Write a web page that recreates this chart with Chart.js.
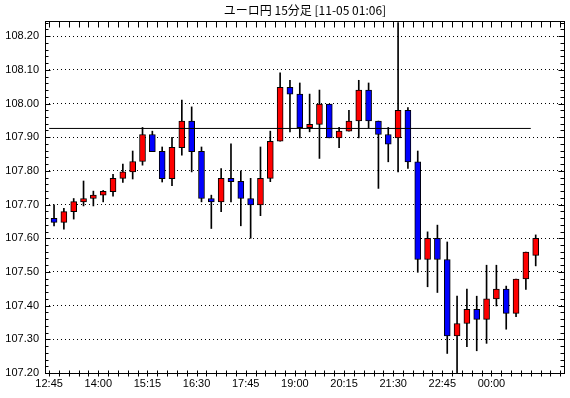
<!DOCTYPE html>
<html>
<head>
<meta charset="utf-8">
<script src="https://cdn.jsdelivr.net/npm/chart.js@4/dist/chart.umd.min.js"></script>
<style>
html,body{margin:0;padding:0;background:#fff;}
#wrap{width:570px;height:398px;}
</style>
</head>
<body>
<div id="wrap"><canvas id="c" width="570" height="398"></canvas></div>
<script>
const titleText = 'ユーロ円 15分足 [11-05 01:06]';
const times = ['12:45','13:00','13:15','13:30','13:45','14:00','14:15','14:30','14:45','15:00',
  '15:15','15:30','15:45','16:00','16:15','16:30','16:45','17:00','17:15','17:30',
  '17:45','18:00','18:15','18:30','18:45','19:00','19:15','19:30','19:45','20:00',
  '20:15','20:30','20:45','21:00','21:15','21:30','21:45','22:00','22:15','22:30',
  '22:45','23:00','23:15','23:30','23:45','00:00','00:15','00:30','00:45','01:00'];
const opens  = [107.659,107.647,107.679,107.708,107.718,107.728,107.738,107.778,107.797,107.828,
  107.908,107.858,107.777,107.869,107.948,107.858,107.718,107.708,107.778,107.769,
  107.718,107.699,107.778,107.888,108.048,108.028,107.928,107.938,107.998,107.898,
  107.918,107.948,108.040,107.948,107.908,107.898,107.980,107.827,107.537,107.600,
  107.537,107.310,107.347,107.389,107.359,107.420,107.449,107.377,107.479,107.549];
const highs  = [107.699,107.689,107.718,107.770,107.740,107.742,107.790,107.820,107.859,107.929,
  107.918,107.871,107.900,108.010,107.990,107.871,107.728,107.807,107.880,107.800,
  107.778,107.871,107.918,108.091,108.069,108.061,108.028,108.040,107.998,107.929,
  107.980,108.069,108.061,107.948,107.929,108.240,107.988,107.859,107.619,107.639,
  107.589,107.428,107.449,107.428,107.520,107.520,107.458,107.479,107.559,107.610];
const lows   = [107.637,107.627,107.657,107.696,107.696,107.708,107.725,107.766,107.776,107.817,
  107.857,107.767,107.756,107.847,107.797,107.708,107.629,107.679,107.708,107.637,
  107.600,107.667,107.768,107.888,107.916,107.898,107.916,107.837,107.898,107.869,
  107.918,107.898,107.928,107.748,107.827,107.797,107.807,107.499,107.456,107.439,
  107.258,107.199,107.278,107.266,107.288,107.399,107.330,107.367,107.448,107.518];
const closes = [107.647,107.679,107.709,107.718,107.728,107.739,107.778,107.797,107.828,107.908,
  107.857,107.777,107.870,107.948,107.857,107.718,107.708,107.778,107.768,107.718,
  107.699,107.778,107.888,108.048,108.028,107.928,107.938,107.998,107.898,107.918,
  107.948,108.040,107.948,107.908,107.879,107.980,107.827,107.537,107.600,107.537,
  107.310,107.347,107.389,107.359,107.420,107.449,107.377,107.479,107.559,107.600];
const refLevel = 107.926;
const refFrom = 0, refTo = 49;
const yTicks = [107.20,107.30,107.40,107.50,107.60,107.70,107.80,107.90,108.00,108.10,108.20];
const labelEvery = 5;

const bodies = opens.map((o,i)=>({x:i, y:[o, closes[i]]}));
const wicks = lows.map((l,i)=>({x:i, y:[l, highs[i]]}));
const bodyColors = opens.map((o,i)=> closes[i] >= o ? '#ff0000' : '#0000ff');

const framePlugin = {
  id:'frame',
  afterDraw(chart){
    const ctx = chart.ctx, a = chart.chartArea, xs = chart.scales.x, ys = chart.scales.y;
    ctx.save();
    ctx.strokeStyle = '#000'; ctx.lineWidth = 1;
    const L = Math.round(a.left)+0.5, R = Math.round(a.right)-0.5, T = Math.round(a.top)+0.5, B = Math.round(a.bottom)+0.5;
    ctx.strokeRect(L, T, R-L, B-T);
    ctx.beginPath();
    for (let k = 0; k <= times.length + 3; k++) {
      const px = Math.round(xs.getPixelForValue(k-0.5))+0.5;
      if (px <= L || px >= R) continue;
      ctx.moveTo(px, T); ctx.lineTo(px, T+6);
      ctx.moveTo(px, B-3); ctx.lineTo(px, B+3);
    }
    for (let m = 0; m <= 52; m++) {
      const v = 107.20 + m*0.02;
      const py = Math.round(ys.getPixelForValue(v))+0.5;
      if (py <= T || py >= B) continue;
      const len = (m % 5 === 0) ? 5 : 3;
      ctx.moveTo(L, py); ctx.lineTo(L+len, py);
      ctx.moveTo(R, py); ctx.lineTo(R-len-1, py);
    }
    ctx.stroke();
    ctx.fillStyle = '#000';
    ctx.font = '12px "Noto Sans CJK JP", "Noto Sans", sans-serif';
    ctx.textAlign = 'center'; ctx.textBaseline = 'middle';
    ctx.fillText(titleText, (a.left + a.right)/2, 10);
    ctx.restore();
  }
};

new Chart(document.getElementById('c'), {
  type:'bar',
  data:{
    datasets:[
      {type:'line', data:[{x:refFrom-0.5,y:refLevel},{x:refTo-0.5,y:refLevel}], borderColor:'#000', borderWidth:1, pointRadius:0, order:0},
      {data:bodies, backgroundColor:bodyColors, borderColor:'#000', borderWidth:1, borderSkipped:false, barThickness:6, grouped:false, order:1},
      {data:wicks, backgroundColor:'#000', borderWidth:0, barThickness:1, grouped:false, order:2}
    ]
  },
  options:{
    responsive:false, animation:false,
    layout:{padding:{top:21,right:5,left:0,bottom:0}},
    plugins:{legend:{display:false}, tooltip:{enabled:false}, title:{display:false}},
    scales:{
      x:{type:'linear', min:-0.92, max:51.98, offset:false,
        grid:{display:false, drawTicks:false}, border:{display:false},
        afterBuildTicks(s){ const t=[]; for(let i=0;i<times.length;i+=labelEvery) t.push({value:i-0.5}); s.ticks=t; },
        ticks:{autoSkip:false, maxRotation:0, color:'#000', padding:4,
          font:{family:'"Liberation Sans", Arial, sans-serif', size:11},
          callback(v){ const i=Math.round(v+0.5); return times[i] || ''; }},
        afterFit(s){ s.height = 25; }
      },
      y:{type:'linear', min:107.20, max:108.245,
        grid:{color:'#000', lineWidth:1, drawTicks:false},
        border:{display:false, dash:[1,3]},
        afterBuildTicks(s){ s.ticks = yTicks.map(v=>({value:v})); },
        ticks:{color:'#000', padding:6,
          font:{family:'"Liberation Sans", Arial, sans-serif', size:11},
          callback(v){ return Number(v).toFixed(2); }},
        afterFit(s){ s.width = 45; }
      }
    }
  },
  plugins:[framePlugin]
});
</script>
</body>
</html>
